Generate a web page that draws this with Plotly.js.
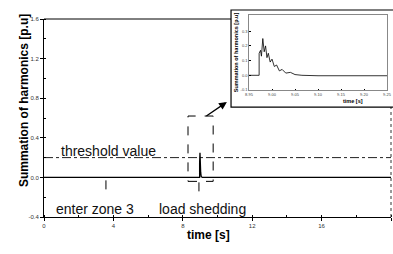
<!DOCTYPE html>
<html>
<head>
<meta charset="utf-8">
<script src="https://cdn.plot.ly/plotly-3.0.1.min.js"></script>
<style>html,body{margin:0;padding:0;background:#fff}#chart{width:393px;height:254px}</style>
</head>
<body>
<div id="chart"></div>
<script>
// Main series
const mainTime = [0, 8.97, 8.97, 8.99, 9.03, 9.06, 9.12, 20];
const mainValue = [0, 0, 0.15, 0.25, 0.05, 0.01, 0, 0];
const threshold = 0.2;
const thresholdTime = [0, 20];
// Inset (zoom) series
const insetTime = [8.950, 8.972, 8.972, 8.975, 8.977, 8.980, 8.983, 8.986, 8.989, 8.992, 8.996, 9.000, 9.005, 9.010, 9.016, 9.022, 9.030, 9.040, 9.050, 9.065, 9.100, 9.250];
const insetValue = [0, 0, 0.15, 0.17, 0.13, 0.25, 0.16, 0.20, 0.12, 0.15, 0.09, 0.11, 0.06, 0.07, 0.03, 0.04, 0.015, 0.02, 0.005, 0.0, -0.003, -0.003];
// Tick labels
const xTicks = [0, 4, 8, 12, 16, 20];
const yTicks = [-0.4, 0.0, 0.4, 0.8, 1.2, 1.6];
const insetXTicks = [8.95, 9.00, 9.05, 9.10, 9.15, 9.20, 9.25];
const insetYTicks = [-0.1, 0.0, 0.1, 0.2, 0.3];
// Event markers
const enterZoneTime = 3.57;
const loadSheddingTime = 8.93;

const FONT = 'Liberation Sans, Arial, sans-serif';
const mainTop = 0.9565;

const traces = [
  {x: thresholdTime, y: [threshold, threshold], mode: 'lines', line: {color: '#222', width: 1, dash: 'dashdot'}, xaxis: 'x', yaxis: 'y', hoverinfo: 'skip'},
  {x: mainTime, y: mainValue, mode: 'lines', line: {color: '#000', width: 1.3}, xaxis: 'x', yaxis: 'y'},
  {x: insetTime, y: insetValue, mode: 'lines', line: {color: '#000', width: 0.8}, xaxis: 'x2', yaxis: 'y2'}
];

const layout = {
  width: 393, height: 254,
  margin: {l: 44, r: 2, t: 10, b: 37},
  paper_bgcolor: '#fff', plot_bgcolor: 'rgba(0,0,0,0)',
  showlegend: false,
  font: {family: FONT, color: '#000'},
  xaxis: {
    domain: [0, 1], range: [0, 20], anchor: 'y',
    tickvals: xTicks, ticktext: xTicks.map(String),
    ticks: 'outside', ticklen: 3, tickcolor: '#000', tickfont: {size: 6, color: '#333'},
    minor: {dtick: 2, ticks: 'inside', ticklen: 2, tickcolor: '#000'},
    showline: true, linecolor: '#000', linewidth: 1,
    showgrid: false, zeroline: false
  },
  yaxis: {
    domain: [0, mainTop], range: [-0.4, 1.6], anchor: 'x',
    tickvals: yTicks, ticktext: yTicks.map(v => v.toFixed(1)),
    ticks: 'outside', ticklen: 3, tickcolor: '#000', tickfont: {size: 6, color: '#333'},
    minor: {dtick: 0.2, ticks: 'inside', ticklen: 2, tickcolor: '#000'},
    showline: true, linecolor: '#000', linewidth: 1,
    showgrid: false, zeroline: false
  },
  xaxis2: {
    domain: [0.5908, 0.9885], range: [8.95, 9.25], anchor: 'y2',
    tickvals: insetXTicks, ticktext: insetXTicks.map(v => v.toFixed(2)),
    ticks: 'inside', ticklen: 1.5, tickcolor: '#000', tickfont: {size: 4, color: '#444'},
    showline: true, mirror: true, linecolor: '#555', linewidth: 0.7,
    showgrid: false, zeroline: false
  },
  yaxis2: {
    domain: [0.6135, 0.9758], range: [-0.1, 0.41], anchor: 'x2',
    tickvals: insetYTicks, ticktext: insetYTicks.map(v => v.toFixed(1)),
    ticks: 'inside', ticklen: 1.5, tickcolor: '#000', tickfont: {size: 4, color: '#444'},
    showline: true, mirror: true, linecolor: '#555', linewidth: 0.7,
    showgrid: false, zeroline: false,
    title: {text: 'Summation of harmonics [p.u]', font: {size: 5.5, weight: 'bold'}, standoff: 1}
  },
  shapes: [
    {type: 'line', xref: 'paper', yref: 'paper', x0: 0, x1: 0.539, y0: mainTop, y1: mainTop, line: {color: '#000', width: 1}},
    {type: 'line', xref: 'paper', yref: 'paper', x0: 1, x1: 1, y0: 0, y1: 0.531, line: {color: '#333', width: 1, dash: 'dot'}},
    {type: 'rect', xref: 'paper', yref: 'paper', x0: 0.539, x1: 1.02, y0: 0.531, y1: 1.0, line: {color: '#000', width: 1.2}},
    {type: 'rect', xref: 'x', yref: 'y', x0: 8.3, x1: 9.75, y0: -0.04, y1: 0.62, line: {color: '#000', width: 1, dash: 'dash'}},
    {type: 'line', xref: 'x', yref: 'y', x0: enterZoneTime, x1: enterZoneTime, y0: -0.03, y1: -0.19, line: {color: '#000', width: 1, dash: 'dash'}},
    {type: 'line', xref: 'x', yref: 'y', x0: loadSheddingTime, x1: loadSheddingTime, y0: -0.05, y1: -0.2, line: {color: '#000', width: 1, dash: 'dash'}}
  ],
  annotations: [
    {text: 'Summation of harmonics [p.u]', xref: 'paper', yref: 'paper', x: -0.0576, y: 0.56, xanchor: 'center', yanchor: 'middle', textangle: -90, showarrow: false, font: {size: 12, weight: 'bold'}},
    {text: 'time [s]', xref: 'paper', yref: 'paper', x: 0.4755, y: -0.087, xanchor: 'center', yanchor: 'middle', showarrow: false, font: {size: 12, weight: 'bold'}},
    {text: 'threshold value', xref: 'x', yref: 'y', x: 3.69, y: 0.27, showarrow: false, font: {size: 14, color: '#111'}},
    {text: 'enter zone 3', xref: 'x', yref: 'y', x: 2.94, y: -0.32, showarrow: false, font: {size: 14, color: '#111'}},
    {text: 'load shedding', xref: 'x', yref: 'y', x: 9.16, y: -0.32, showarrow: false, font: {size: 14, color: '#111'}},
    {text: 'time [s]', xref: 'paper', yref: 'paper', x: 0.89, y: 0.56, xanchor: 'center', yanchor: 'middle', showarrow: false, font: {size: 5.5, weight: 'bold'}},
    {text: '', xref: 'paper', yref: 'paper', x: 0.527, y: 0.5556, ax: -22, ay: 15, showarrow: true, arrowhead: 2, arrowsize: 1.2, arrowwidth: 1.3, arrowcolor: '#000'}
  ]
};

Plotly.newPlot('chart', traces, layout, {staticPlot: true, displayModeBar: false});
</script>
</body>
</html>
